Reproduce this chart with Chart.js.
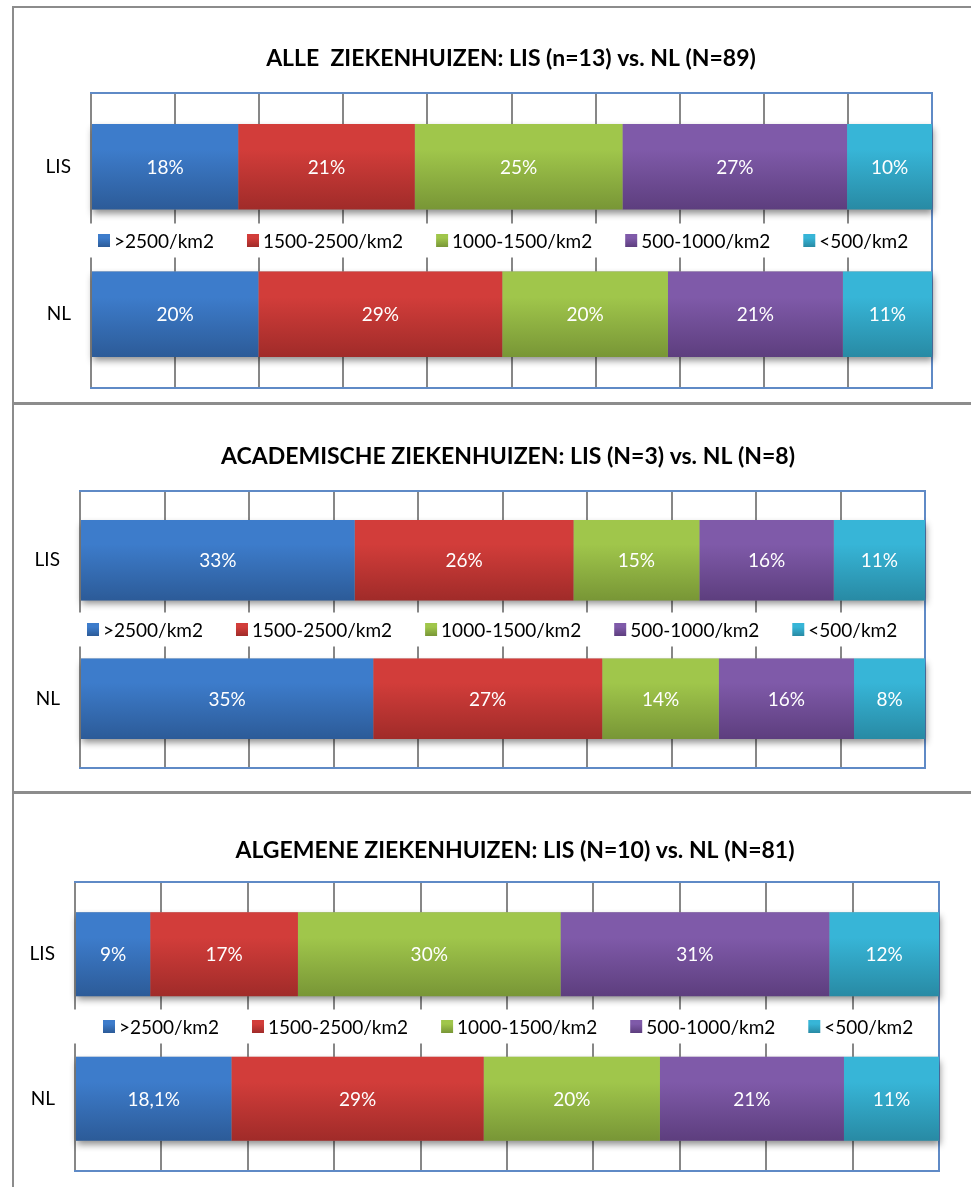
<!DOCTYPE html>
<html><head><meta charset="utf-8">
<script src="https://cdn.jsdelivr.net/npm/chart.js@4"></script>
<style>
html,body{margin:0;padding:0;background:#fff;width:971px;height:1187px;overflow:hidden;position:relative;font-family:Lato,sans-serif}
.panel{position:absolute;left:12px;width:1000px;border-left:2px solid #8c8c8c;box-sizing:border-box}
.cv{position:absolute;left:0;width:971px}
</style></head><body>
<div class="panel" style="top:6px;height:400px;border-top:2px solid #8c8c8c"></div>
<div class="panel" style="top:402px;height:392px;border-top:3px solid #8c8c8c"></div>
<div class="panel" style="top:791px;height:420px;border-top:3px solid #8c8c8c"></div>
<div class="cv" style="top:8px;height:394px"><canvas id="c1"></canvas></div>
<div class="cv" style="top:405px;height:386px"><canvas id="c2"></canvas></div>
<div class="cv" style="top:794px;height:393px"><canvas id="c3"></canvas></div>
<script>
// ---- data ----
const categories = ['LIS', 'NL'];
const seriesNames = ['>2500/km2', '1500-2500/km2', '1000-1500/km2', '500-1000/km2', '<500/km2'];
const xTicks = [0, 10, 20, 30, 40, 50, 60, 70, 80, 90, 100];

const title1 = 'ALLE  ZIEKENHUIZEN: LIS (n=13) vs. NL (N=89)';
const alleLIS = [17.5, 21.0, 24.7, 26.7, 10.1];
const alleNL = [19.9, 29.0, 19.7, 20.8, 10.6];
const alleLISLabels = ['18%', '21%', '25%', '27%', '10%'];
const alleNLLabels = ['20%', '29%', '20%', '21%', '11%'];

const title2 = 'ACADEMISCHE ZIEKENHUIZEN: LIS (N=3) vs. NL (N=8)';
const acadLIS = [32.5, 25.9, 14.9, 15.9, 10.8];
const acadNL = [34.7, 27.1, 13.8, 16.0, 8.4];
const acadLISLabels = ['33%', '26%', '15%', '16%', '11%'];
const acadNLLabels = ['35%', '27%', '14%', '16%', '8%'];

const title3 = 'ALGEMENE ZIEKENHUIZEN: LIS (N=10) vs. NL (N=81)';
const algLIS = [8.7, 17.1, 30.4, 31.1, 12.7];
const algNL = [18.1, 29.2, 20.4, 21.3, 11.0];
const algLISLabels = ['9%', '17%', '30%', '31%', '12%'];
const algNLLabels = ['18,1%', '29%', '20%', '21%', '11%'];

// ---- styles ----
const lightColors = ['#3d7ccb', '#d23d3a', '#a0c64b', '#7f5aa9', '#37b5d7'];
const darkColors = ['#2c5b98', '#a02b29', '#789636', '#5d3e7e', '#288aa4'];
const BAR_PCT = 0.58;
const FONT = 'Lato, "Open Sans", sans-serif';

function grad(chart, i, top, h) {
  const g = chart.ctx.createLinearGradient(0, top, 0, top + h);
  g.addColorStop(0, lightColors[i]);
  g.addColorStop(0.3, lightColors[i]);
  g.addColorStop(1, darkColors[i]);
  return g;
}

const panelPlugin = {
  id: 'panelDeco',
  beforeDatasetsDraw(chart, args, o) {
    const ctx = chart.ctx, a = chart.chartArea;
    ctx.save();
    // plot frame (top, right, bottom) in blue
    ctx.strokeStyle = '#5f8ac6';
    ctx.lineWidth = 2;
    ctx.beginPath();
    ctx.moveTo(a.left - 1, a.top);
    ctx.lineTo(a.right, a.top);
    ctx.lineTo(a.right, a.bottom);
    ctx.lineTo(a.left - 1, a.bottom);
    ctx.stroke();
    // soft shadow under each whole bar
    const n = chart.data.labels.length;
    for (let i = 0; i < n; i++) {
      let l = Infinity, r = -Infinity, y = 0, h = 0;
      chart.data.datasets.forEach((d, di) => {
        const el = chart.getDatasetMeta(di).data[i];
        if (!el) return;
        l = Math.min(l, el.base, el.x); r = Math.max(r, el.base, el.x);
        y = el.y; h = el.height;
      });
      ctx.shadowColor = 'rgba(0,0,0,0.45)';
      ctx.shadowBlur = 7;
      ctx.shadowOffsetY = 4;
      ctx.shadowOffsetX = 1;
      ctx.fillStyle = '#999';
      ctx.fillRect(l, y - h / 2, r - l, h);
    }
    ctx.restore();
  },
  afterDatasetsDraw(chart, args, o) {
    const ctx = chart.ctx, a = chart.chartArea;
    ctx.save();
    // value labels
    ctx.font = '19px ' + FONT;
    ctx.fillStyle = '#ffffff';
    ctx.textAlign = 'center';
    ctx.textBaseline = 'middle';
    chart.data.datasets.forEach((d, di) => {
      chart.getDatasetMeta(di).data.forEach((el, i) => {
        ctx.fillText(d.valueLabels[i], (el.x + el.base) / 2, el.y + 1);
      });
    });
    // legend between the two bars
    const yS = chart.scales.y;
    const cy = (yS.getPixelForValue(0) + yS.getPixelForValue(1)) / 2;
    ctx.fillStyle = '#ffffff';
    ctx.fillRect(a.left - 4, cy - 17, a.right - 2 - (a.left - 4), 34);
    ctx.textAlign = 'left';
    ctx.font = '19px ' + FONT;
    let x = o.legendX;
    chart.data.datasets.forEach((d, i) => {
      ctx.fillStyle = grad(chart, i, cy - 6.5, 13);
      ctx.fillRect(x, cy - 6.5, 12, 13);
      x += 16;
      ctx.fillStyle = '#000000';
      ctx.fillText(d.label, x, cy + 1);
      x += ctx.measureText(d.label).width + 33;
    });
    // title
    ctx.font = 'bold 23px ' + FONT;
    ctx.fillStyle = '#000000';
    ctx.textAlign = 'center';
    ctx.fillText(o.title, o.titleX, o.titleY);
    ctx.restore();
  }
};

function makeChart(id, title, lis, nl, lisLab, nlLab, cfg) {
  const datasets = seriesNames.map((name, i) => ({
    label: name,
    data: [lis[i], nl[i]],
    valueLabels: [lisLab[i], nlLab[i]],
    backgroundColor: (c) => {
      const ch = c.chart, a = ch.chartArea;
      if (!a || !ch.scales.y) return lightColors[i];
      const band = (a.bottom - a.top) / categories.length;
      const h = band * BAR_PCT;
      const cy = ch.scales.y.getPixelForValue(c.dataIndex);
      return grad(ch, i, cy - h / 2, h);
    },
    borderWidth: 0,
    barPercentage: BAR_PCT,
    categoryPercentage: 1
  }));
  return new Chart(document.getElementById(id), {
    type: 'bar',
    data: { labels: categories, datasets },
    plugins: [panelPlugin],
    options: {
      indexAxis: 'y',
      responsive: true,
      maintainAspectRatio: false,
      animation: false,
      layout: { padding: { top: cfg.top, right: cfg.right, bottom: cfg.bottom, left: 0 } },
      plugins: {
        legend: { display: false },
        title: { display: false },
        tooltip: { enabled: false },
        panelDeco: { title, titleX: cfg.titleX, titleY: cfg.titleY, legendX: cfg.legendX }
      },
      scales: {
        x: {
          stacked: true, min: 0, max: 100,
          afterBuildTicks: (s) => { s.ticks = xTicks.map(v => ({ value: v })); },
          ticks: { display: false },
          grid: { color: '#878787', lineWidth: 2, drawTicks: false },
          border: { display: false },
          afterFit: (s) => { s.height = 0; s.paddingLeft = 0; s.paddingRight = 0; }
        },
        y: {
          stacked: true,
          grid: { display: false, drawTicks: false },
          border: { display: false },
          ticks: { color: '#000', padding: 20, font: { family: FONT, size: 19 } },
          afterFit: (s) => { s.width = cfg.plotLeft; s.paddingTop = 0; s.paddingBottom = 0; }
        }
      }
    }
  });
}

makeChart('c1', title1, alleLIS, alleNL, alleLISLabels, alleNLLabels,
  { plotLeft: 91, top: 85, right: 39, bottom: 14, titleX: 511, titleY: 51, legendX: 98 });
makeChart('c2', title2, acadLIS, acadNL, acadLISLabels, acadNLLabels,
  { plotLeft: 80, top: 86, right: 46, bottom: 23, titleX: 508, titleY: 52, legendX: 87 });
makeChart('c3', title3, algLIS, algNL, algLISLabels, algNLLabels,
  { plotLeft: 75, top: 88, right: 32, bottom: 16, titleX: 515, titleY: 57, legendX: 103 });
</script>
</body></html>
